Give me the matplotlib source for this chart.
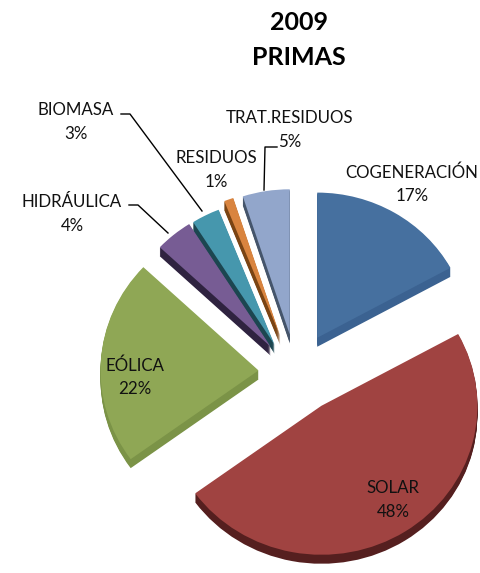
import matplotlib
matplotlib.use('Agg')
import matplotlib.pyplot as plt

plt.rcParams['font.family'] = ['Lato', 'DejaVu Sans']

# Data
categorias = ['COGENERACIÓN', 'SOLAR', 'EÓLICA', 'HIDRÁULICA', 'BIOMASA', 'RESIDUOS', 'TRAT.RESIDUOS']
valores = [17, 48, 22, 4, 3, 1, 5]
titulo = '2009\nPRIMAS'

colores = ['#46709f', '#a04341', '#8fa755', '#775c94', '#4697ad', '#d9843f', '#92a6cb']
laterales = ['#3b6291', '#551f1f', '#7b9347', '#2f2340', '#1c4650', '#7a4414', '#45556b']
explode = [0.21, 0.30, 0.28, 0.20, 0.18, 0.19, 0.22]

W, H = 480, 573
SQ = 0.955      # achatado vertical de la tarta
RADIO = 152
CX, CY = 300, 366
PROF = 9

# retoques por porcion (la perspectiva del original no es una tarta perfecta)
radios = [152, 156, 158, 152, 152, 152, 152]
ajuste = [(1, -2), (-3, 3), (1, 7), (-10, 3), (-13, 2), (-10, -4), (-5, 0)]

fig = plt.figure(figsize=(W / 100, H / 100), dpi=100)

ax = fig.add_axes([0, 0, 1, 1])
centro = (CX, (H - CY) / SQ)
despl = [e * RADIO for e in explode]   # explode de pie va en unidades de datos


def tarta(bajada, cols):
    wedges, _ = ax.pie(valores, explode=despl, colors=cols, startangle=90, counterclock=False,
                       radius=RADIO, center=(centro[0], centro[1] - bajada / SQ), frame=True)
    for w, r, (dx, dy) in zip(wedges, radios, ajuste):
        w.set_radius(r)
        w.set_center((w.center[0] + dx, w.center[1] - dy / SQ))


# el lateral es la misma tarta desplazada hacia abajo
for i in range(PROF, 0, -1):
    tarta(i, laterales)
tarta(0, colores)
ax.set_aspect('auto')
ax.set_xlim(0, W)
ax.set_ylim(0, H / SQ)
ax.axis('off')

# textos en coordenadas de pixel
txt = fig.add_axes([0, 0, 1, 1])
txt.set_xlim(0, W)
txt.set_ylim(H, 0)
txt.axis('off')
txt.patch.set_alpha(0)

txt.text(299, 40, titulo, ha='center', va='center', fontsize=18, fontweight='bold',
         linespacing=1.6, color='black')

etiquetas = [(412, 184), (393, 500), (135, 377), (72, 214), (76, 122), (216, 170), (290, 129)]
for i, cat in enumerate(categorias):
    x, y = etiquetas[i]
    if cat == 'TRAT.RESIDUOS':
        txt.text(x, 118, cat, ha='center', va='center', fontsize=12.2, color='#111111')
        txt.text(x, 142, '%d%%' % valores[i], ha='center', va='center', fontsize=12.2, color='#111111')
    else:
        txt.text(x, y, '%s\n%d%%' % (cat, valores[i]), ha='center', va='center',
                 fontsize=12.2, linespacing=1.55, color='#111111')

# lineas guia
guias = [([121, 130, 202], [114, 114, 211]),
         ([129, 138, 168], [205, 205, 233]),
         ([277, 265, 264], [147, 147, 190])]
for xs, ys in guias:
    txt.plot(xs, ys, color='black', lw=1.0)

fig.savefig('out.png', dpi=100)
